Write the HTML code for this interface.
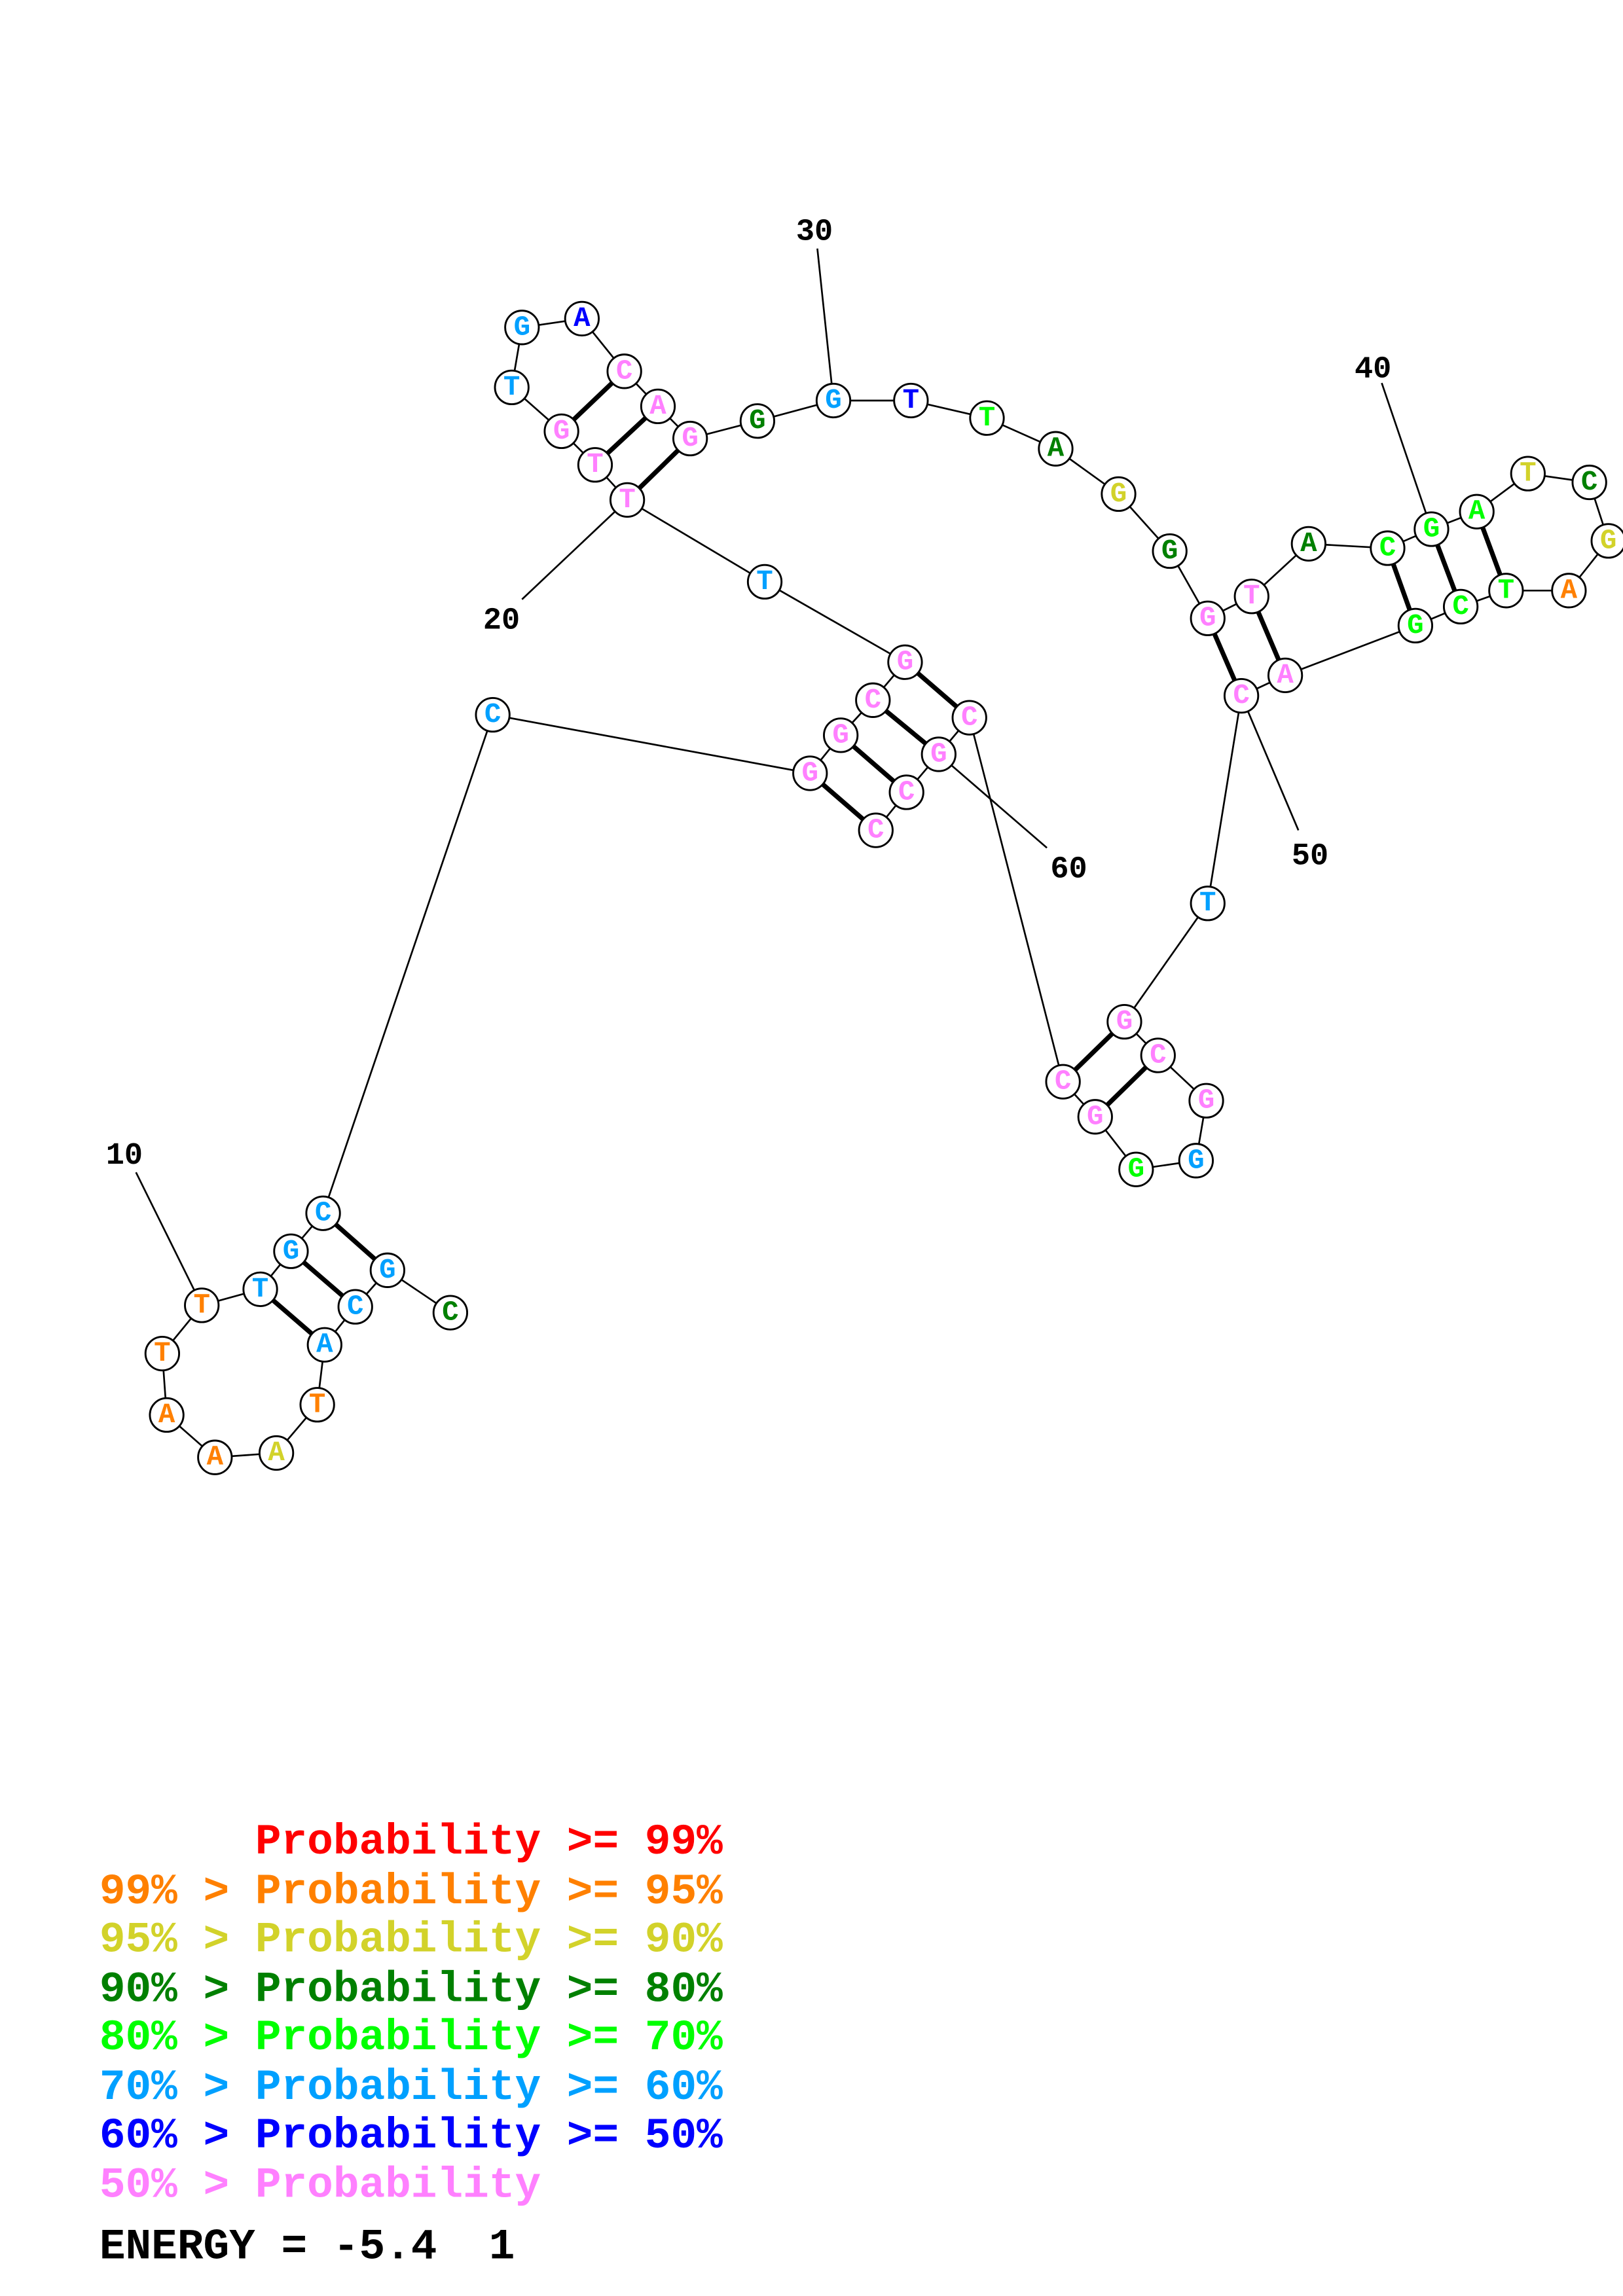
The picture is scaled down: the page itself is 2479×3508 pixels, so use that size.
<!DOCTYPE html>
<html><head><meta charset="utf-8"><style>html,body{margin:0;padding:0;background:#fff}svg{display:block}.lg text{white-space:pre}</style></head>
<body>
<svg xmlns="http://www.w3.org/2000/svg" width="2479" height="3508" viewBox="0 0 1110 1570.7">
<rect width="1110" height="1571" fill="#fff"/>
<g stroke="#000" stroke-width="1.2" fill="none">
<polyline points="308,898 265,869 243,894 222,920 217,961 189,994 147,997 114,968 111,926 138,893 178,882 199,856 221,830 337,489 554,529 575,503 597,479 619,453 523,398 429,342 407,318 384,295 350,265 357,224 398,218 427,254 450,278 472,300 518,288 570,274 623,274 675,286 722,307 765,338 800,377 826,423 856,408 895,372 949,375 979,362 1010,350 1045,324 1087,330 1100,370 1073,404 1030,404 999,415 968,428 879,462 849,476 826,618 769,699 792,722 825,753 818,794 777,800 749,764 727,740 663,491 642,516 620,542 599,568"/>
<line x1="93" y1="802" x2="138" y2="893"/>
<line x1="357" y1="410" x2="429" y2="342"/>
<line x1="559" y1="170" x2="570" y2="274"/>
<line x1="945" y1="262" x2="979" y2="362"/>
<line x1="888" y1="568" x2="849" y2="476"/>
<line x1="716" y1="580" x2="642" y2="516"/>
</g>
<g stroke="#000" stroke-width="3.2">
<line x1="265" y1="869" x2="221" y2="830"/><line x1="243" y1="894" x2="199" y2="856"/><line x1="222" y1="920" x2="178" y2="882"/>
<line x1="554" y1="529" x2="599" y2="568"/><line x1="575" y1="503" x2="620" y2="542"/><line x1="597" y1="479" x2="642" y2="516"/><line x1="619" y1="453" x2="663" y2="491"/>
<line x1="429" y1="342" x2="472" y2="300"/><line x1="407" y1="318" x2="450" y2="278"/><line x1="384" y1="295" x2="427" y2="254"/>
<line x1="826" y1="423" x2="849" y2="476"/><line x1="856" y1="408" x2="879" y2="462"/>
<line x1="949" y1="375" x2="968" y2="428"/><line x1="979" y1="362" x2="999" y2="415"/><line x1="1010" y1="350" x2="1030" y2="404"/>
<line x1="769" y1="699" x2="727" y2="740"/><line x1="792" y1="722" x2="749" y2="764"/>
</g>
<g fill="#fff" stroke="#000" stroke-width="1.3">
<circle cx="308" cy="898" r="11.5"/><circle cx="265" cy="869" r="11.5"/><circle cx="243" cy="894" r="11.5"/><circle cx="222" cy="920" r="11.5"/><circle cx="217" cy="961" r="11.5"/><circle cx="189" cy="994" r="11.5"/><circle cx="147" cy="997" r="11.5"/><circle cx="114" cy="968" r="11.5"/><circle cx="111" cy="926" r="11.5"/><circle cx="138" cy="893" r="11.5"/><circle cx="178" cy="882" r="11.5"/><circle cx="199" cy="856" r="11.5"/><circle cx="221" cy="830" r="11.5"/><circle cx="337" cy="489" r="11.5"/><circle cx="554" cy="529" r="11.5"/><circle cx="575" cy="503" r="11.5"/><circle cx="597" cy="479" r="11.5"/><circle cx="619" cy="453" r="11.5"/><circle cx="523" cy="398" r="11.5"/><circle cx="429" cy="342" r="11.5"/><circle cx="407" cy="318" r="11.5"/><circle cx="384" cy="295" r="11.5"/><circle cx="350" cy="265" r="11.5"/><circle cx="357" cy="224" r="11.5"/><circle cx="398" cy="218" r="11.5"/><circle cx="427" cy="254" r="11.5"/><circle cx="450" cy="278" r="11.5"/><circle cx="472" cy="300" r="11.5"/><circle cx="518" cy="288" r="11.5"/><circle cx="570" cy="274" r="11.5"/><circle cx="623" cy="274" r="11.5"/><circle cx="675" cy="286" r="11.5"/><circle cx="722" cy="307" r="11.5"/><circle cx="765" cy="338" r="11.5"/><circle cx="800" cy="377" r="11.5"/><circle cx="826" cy="423" r="11.5"/><circle cx="856" cy="408" r="11.5"/><circle cx="895" cy="372" r="11.5"/><circle cx="949" cy="375" r="11.5"/><circle cx="979" cy="362" r="11.5"/><circle cx="1010" cy="350" r="11.5"/><circle cx="1045" cy="324" r="11.5"/><circle cx="1087" cy="330" r="11.5"/><circle cx="1100" cy="370" r="11.5"/><circle cx="1073" cy="404" r="11.5"/><circle cx="1030" cy="404" r="11.5"/><circle cx="999" cy="415" r="11.5"/><circle cx="968" cy="428" r="11.5"/><circle cx="879" cy="462" r="11.5"/><circle cx="849" cy="476" r="11.5"/><circle cx="826" cy="618" r="11.5"/><circle cx="769" cy="699" r="11.5"/><circle cx="792" cy="722" r="11.5"/><circle cx="825" cy="753" r="11.5"/><circle cx="818" cy="794" r="11.5"/><circle cx="777" cy="800" r="11.5"/><circle cx="749" cy="764" r="11.5"/><circle cx="727" cy="740" r="11.5"/><circle cx="663" cy="491" r="11.5"/><circle cx="642" cy="516" r="11.5"/><circle cx="620" cy="542" r="11.5"/><circle cx="599" cy="568" r="11.5"/>
</g>
<g font-family="Liberation Mono, monospace" font-weight="bold" font-size="19" text-anchor="middle" dominant-baseline="central">
<text x="308" y="898" fill="#008000">C</text><text x="265" y="869" fill="#00a0ff">G</text><text x="243" y="894" fill="#00a0ff">C</text><text x="222" y="920" fill="#00a0ff">A</text><text x="217" y="961" fill="#ff8000">T</text><text x="189" y="994" fill="#d2d22a">A</text><text x="147" y="997" fill="#ff8000">A</text><text x="114" y="968" fill="#ff8000">A</text><text x="111" y="926" fill="#ff8000">T</text><text x="138" y="893" fill="#ff8000">T</text><text x="178" y="882" fill="#00a0ff">T</text><text x="199" y="856" fill="#00a0ff">G</text><text x="221" y="830" fill="#00a0ff">C</text><text x="337" y="489" fill="#00a0ff">C</text><text x="554" y="529" fill="#ff80ff">G</text><text x="575" y="503" fill="#ff80ff">G</text><text x="597" y="479" fill="#ff80ff">C</text><text x="619" y="453" fill="#ff80ff">G</text><text x="523" y="398" fill="#00a0ff">T</text><text x="429" y="342" fill="#ff80ff">T</text><text x="407" y="318" fill="#ff80ff">T</text><text x="384" y="295" fill="#ff80ff">G</text><text x="350" y="265" fill="#00a0ff">T</text><text x="357" y="224" fill="#00a0ff">G</text><text x="398" y="218" fill="#0000ff">A</text><text x="427" y="254" fill="#ff80ff">C</text><text x="450" y="278" fill="#ff80ff">A</text><text x="472" y="300" fill="#ff80ff">G</text><text x="518" y="288" fill="#008000">G</text><text x="570" y="274" fill="#00a0ff">G</text><text x="623" y="274" fill="#0000ff">T</text><text x="675" y="286" fill="#00ff00">T</text><text x="722" y="307" fill="#008000">A</text><text x="765" y="338" fill="#d2d22a">G</text><text x="800" y="377" fill="#008000">G</text><text x="826" y="423" fill="#ff80ff">G</text><text x="856" y="408" fill="#ff80ff">T</text><text x="895" y="372" fill="#008000">A</text><text x="949" y="375" fill="#00ff00">C</text><text x="979" y="362" fill="#00ff00">G</text><text x="1010" y="350" fill="#00ff00">A</text><text x="1045" y="324" fill="#d2d22a">T</text><text x="1087" y="330" fill="#008000">C</text><text x="1100" y="370" fill="#d2d22a">G</text><text x="1073" y="404" fill="#ff8000">A</text><text x="1030" y="404" fill="#00ff00">T</text><text x="999" y="415" fill="#00ff00">C</text><text x="968" y="428" fill="#00ff00">G</text><text x="879" y="462" fill="#ff80ff">A</text><text x="849" y="476" fill="#ff80ff">C</text><text x="826" y="618" fill="#00a0ff">T</text><text x="769" y="699" fill="#ff80ff">G</text><text x="792" y="722" fill="#ff80ff">C</text><text x="825" y="753" fill="#ff80ff">G</text><text x="818" y="794" fill="#00a0ff">G</text><text x="777" y="800" fill="#00ff00">G</text><text x="749" y="764" fill="#ff80ff">G</text><text x="727" y="740" fill="#ff80ff">C</text><text x="663" y="491" fill="#ff80ff">C</text><text x="642" y="516" fill="#ff80ff">G</text><text x="620" y="542" fill="#ff80ff">C</text><text x="599" y="568" fill="#ff80ff">C</text>
</g>
<g font-family="Liberation Mono, monospace" font-weight="bold" font-size="21" text-anchor="middle" dominant-baseline="central" fill="#000">
<text x="85" y="791">10</text><text x="343" y="425">20</text><text x="557" y="159">30</text><text x="939" y="253">40</text><text x="896" y="586">50</text><text x="731" y="595">60</text>
</g>
<g class="lg" font-family="Liberation Mono, monospace" font-weight="bold" font-size="29.6">
<text x="68" y="1268" fill="#ff0000">      Probability &gt;= 99%</text>
<text x="68" y="1302" fill="#ff8000">99% &gt; Probability &gt;= 95%</text>
<text x="68" y="1335" fill="#d2d22a">95% &gt; Probability &gt;= 90%</text>
<text x="68" y="1369" fill="#008000">90% &gt; Probability &gt;= 80%</text>
<text x="68" y="1402" fill="#00ff00">80% &gt; Probability &gt;= 70%</text>
<text x="68" y="1436" fill="#00a0ff">70% &gt; Probability &gt;= 60%</text>
<text x="68" y="1469" fill="#0000ff">60% &gt; Probability &gt;= 50%</text>
<text x="68" y="1503" fill="#ff80ff">50% &gt; Probability</text>
<text x="68" y="1545" fill="#000">ENERGY = -5.4  1</text>
</g>
</svg>
</body></html>
